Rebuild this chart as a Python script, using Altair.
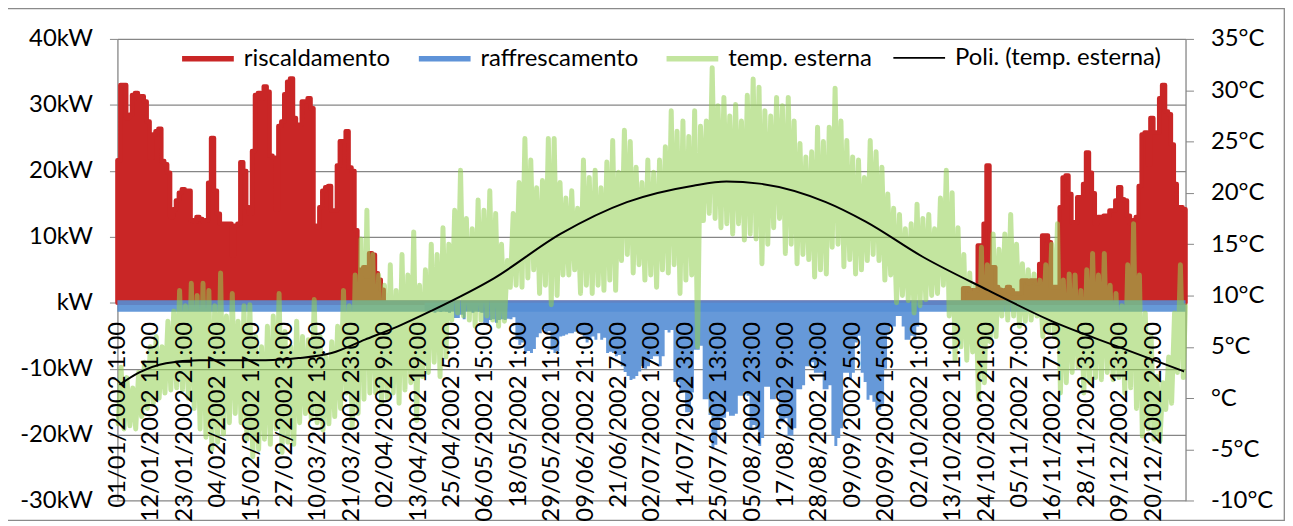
import json
import altair as alt
import pandas as pd

# ---------------- data ----------------
tick_labels = [
    "01/01/2002 1:00", "12/01/2002 11:00", "23/01/2002 21:00", "04/02/2002 7:00",
    "15/02/2002 17:00", "27/02/2002 3:00", "10/03/2002 13:00", "21/03/2002 23:00",
    "02/04/2002 9:00", "13/04/2002 19:00", "25/04/2002 5:00", "06/05/2002 15:00",
    "18/05/2002 1:00", "29/05/2002 11:00", "09/06/2002 21:00", "21/06/2002 7:00",
    "02/07/2002 17:00", "14/07/2002 3:00", "25/07/2002 13:00", "05/08/2002 23:00",
    "17/08/2002 9:00", "28/08/2002 19:00", "09/09/2002 5:00", "20/09/2002 15:00",
    "02/10/2002 1:00", "13/10/2002 11:00", "24/10/2002 21:00", "05/11/2002 7:00",
    "16/11/2002 17:00", "28/11/2002 3:00", "09/12/2002 13:00", "20/12/2002 23:00",
]
tick_step_hours = 274

# heating (kW), daily peaks, days 0..91
heat_winter = [
    21.6, 33, 33, 28, 28.5, 31.5, 31.8, 31, 31.3, 30.5,
    27.5, 22, 25.5, 26, 26.4, 21.5, 21, 19.7, 13, 14.2,
    15.5, 16.7, 17.2, 17, 17, 12.5, 12.3, 13, 12.7, 12.3,
    12.5, 18.2, 25, 17, 13.5, 12, 12, 12, 12, 7.2,
    11.7, 12, 21.3, 20, 14.5, 13.5, 23, 31.5, 31.8, 31,
    32.8, 32, 22.3, 22, 14.2, 26.8, 27.5, 31.6, 33.5, 34,
    28, 27, 27, 30.5, 30.5, 31, 29.5, 11.7, 11.5, 14.5,
    17, 17.5, 17.7, 14, 14, 20.8, 24.5, 24.5, 26, 20.5,
    20, 11, 5, 5, 5.4, 4, 7.5, 7.3, 4.5, 3.5,
    2, 0,
]
heat_winter_first_day = 0

# heating (kW), daily peaks, days 285..364
heat_autumn = [
    0, 0, 0, 0,
    2.2, 2.2, 1.9, 1.9, 1.9, 8.7, 8.7, 12, 20.8, 5.4,
    5.4, 2.4, 2, 1.5, 1.9, 2.4, 1.9, 1.4, 1.4, 1.4,
    3.4, 3.4, 3.0, 3.4, 3.4, 3.0, 5.9, 10.2, 10.2, 9.2,
    2.4, 2.4, 2.4, 14.5, 19, 19.3, 16.5, 12.2, 12.2, 16,
    16, 18, 22.8, 19.7, 16.6, 12, 13, 13, 13.2, 13.2,
    14, 14, 15.5, 17.5, 15.7, 15.5, 13.2, 12, 12.5, 13,
    17.7, 25.5, 25.8, 21, 28, 25.8, 25.8, 31, 33, 29,
    28.6, 24, 18, 14.5, 14.5, 14.2,
]
heat_autumn_first_day = 285

# cooling (kW, negative), daily peaks, days 105..274
cool_summer = [
    -1.2, -1.3, -1.2, -1.5, -1.2, -1.4, -1.2, -1.3, -1.5, -1.2,
    -2.3, -2.3, -1.8, -2.5, -1.2, -1.2, -1.5, -1.2, -1.3, -1.5,
    -3.0, -3.1, -2.6, -2.5, -3.0, -2.6, -2.5, -2.6, -2.4, -2.5,
    -2.2, -5.6, -6.4, -6.0, -7.6, -7.3, -7.6, -7.0, -5.2, -4.6,
    -4.0, -4.6, -4.3, -7.1, -7.6, -7.3, -5.1, -5.0, -4.8, -4.6,
    -4.6, -4.4, -4.6, -4.6, -5.1, -6.0, -5.6, -5.1, -5.6, -4.6,
    -5.6, -5.3, -7.6, -7.4, -7.6, -8.1, -7.9, -9.6, -10.5, -11.1,
    -11.7, -11.5, -11.1, -10.4, -9.6, -10.0, -9.6, -8.5, -8.1, -8.1,
    -9.6, -8.1, -4.1, -4.5, -4.1, -12.0, -12.0, -13.6, -13.6, -16.6,
    -16.6, -13.6, -7.1, -7.1, -6.5, -14.6, -14.6, -17.0, -22.2, -21.5,
    -19.0, -17.4, -17.4, -16.5, -17.1, -17.1, -16.8, -14.1, -14.1, -13.5,
    -14.1, -19.2, -18.5, -19.2, -21.7, -20.5, -12.7, -12.7, -14.6, -14.6,
    -14.0, -18.1, -18.1, -17.5, -20.1, -20.1, -19.0, -13.1, -13.1, -12.5,
    -9.6, -9.6, -9.0, -10.6, -10.6, -10.6, -13.1, -13.1, -12.5, -20.1,
    -21.7, -20.5, -19.0, -10.6, -10.6, -11.6, -10.6, -6.0, -5.0, -10.6,
    -12.0, -14.7, -14.0, -15.0, -16.2, -16.2, -15.5, -10.0, -4.6, -3.6,
    -3.6, -2.0, -2.0, -3.6, -5.6, -5.6, -5.0, -5.6, -3.6, 0,
]
cool_first_day = 105

# outdoor temperature (°C): lows and highs for each 2-day period
temp_low = [
    -2.5, -3.0, -2.7, -3.0, -1.8, -1.0, -0.5, 0.0, 0.5, 0.8,
    1.0, 0.8, 0.0, -1.0, -3.0, -3.8, -5.0, -4.3, -3.5, -2.4,
    -1.5, -2.4, -4.0, -5.7, -5.0, -4.0, -4.5, -3.0, -5.3, -4.3,
    -4.5, -2.4, -1.5, -2.0, -2.4, -3.1, -2.5, -1.8, -1.0, 0.5,
    -2.8, -1.5, -0.1, 0.5, 0.5, -0.5, 0.0, 0.5, -0.5, 0.8,
    1.5, -2.2, 2.1, 2.5, 3.5, 2.1, 4.0, 7.6, 8.3, 8.0,
    7.6, 7.0, 7.6, 8.0, 7.6, 7.0, 7.5, 10.8, 11.0, 10.8,
    11.7, 12.5, 10.2, 11.0, 9.1, 10.0, 12.0, 12.0, 12.5, 10.2,
    11.0, 10.2, 11.0, 10.5, 11.5, 10.5, 13.4, 14.0, 12.2, 13.0,
    11.5, 12.0, 10.8, 12.5, 12.2, 13.0, 10.2, 11.5, 12.0, 5.0,
    17.3, 18.0, 17.5, 16.6, 17.0, 16.0, 17.0, 15.4, 16.0, 15.5,
    13.1, 15.0, 16.6, 17.5, 14.1, 15.0, 13.1, 14.0, 13.5, 11.8,
    12.5, 12.1, 14.7, 15.0, 12.8, 13.5, 12.1, 12.5, 13.4, 14.0,
    13.4, 11.5, 12.0, 9.3, 10.0, 9.5, 8.3, 9.0, 9.6, 10.0,
    10.2, 11.0, 8.0, 3.7, 5.0, 3.7, 4.5, -0.1, 1.5, 5.5,
    6.0, 8.0, 7.6, 8.0, 7.0, 7.5, 7.6, 8.0, 6.0, 6.5,
    6.0, 0.5, 1.5, 2.5, 3.0, 0.5, 1.5, 2.0, 1.8, 2.5,
    1.8, 2.0, 0.5, 1.0, -1.0, -3.7, -3.0, -4.0, -4.2, -1.1,
    -0.5, 2.5, 2.0,
]
temp_high = [
    3.0, 2.0, 1.0, 2.5, 3.5, 5.0, 6.0, 5.0, 7.5, 8.5,
    10.5, 9.0, 11.2, 10.0, 11.2, 10.5, 9.0, 12.2, 8.0, 10.2,
    7.5, 9.0, 9.1, 6.0, 5.0, 7.0, 8.0, 10.2, 6.5, 5.0,
    7.5, 6.0, 5.7, 9.6, 6.0, 4.0, 5.5, 7.0, 10.5, 9.0,
    12.0, 15.5, 18.3, 14.0, 12.0, 11.0, 13.0, 10.5, 14.0, 12.0,
    16.2, 11.0, 12.5, 15.0, 14.0, 16.6, 15.0, 18.3, 22.2, 17.5,
    16.5, 19.3, 18.3, 20.2, 18.0, 15.0, 13.4, 18.0, 21.0, 25.3,
    23.2, 20.5, 21.2, 25.3, 25.3, 21.0, 19.5, 20.2, 18.5, 23.2,
    21.5, 22.2, 20.5, 23.0, 25.1, 22.0, 26.1, 25.0, 22.5, 21.0,
    23.2, 22.0, 23.2, 24.5, 28.0, 26.0, 27.0, 25.5, 28.0, 26.5,
    27.0, 32.2, 28.5, 29.3, 27.5, 28.6, 27.0, 29.5, 31.1, 30.3,
    28.0, 27.5, 29.3, 28.5, 29.3, 27.0, 24.8, 23.5, 24.0, 26.4,
    25.0, 26.4, 30.2, 27.0, 25.1, 23.5, 23.2, 21.5, 25.1, 24.0,
    22.5, 19.9, 18.5, 17.9, 16.5, 17.0, 18.9, 17.5, 17.9, 16.5,
    19.5, 22.2, 20.0, 16.6, 14.0, 12.2, 11.0, 14.7, 13.0, 16.0,
    14.5, 16.0, 17.9, 15.0, 13.1, 12.5, 12.1, 11.5, 13.0, 15.0,
    17.0, 11.5, 12.1, 12.0, 10.5, 12.5, 14.1, 12.0, 14.1, 11.0,
    10.2, 9.0, 13.0, 17.0, 12.0, 8.3, 6.0, 2.1, 1.5, 4.0,
    8.3, 13.0, 9.0,
]

# polynomial trend line of the temperature
poly_day = [0.7, 7.5, 16.6, 27.9, 39.2, 50.6, 61.9, 73.2, 84.6, 95.9, 107.2,
            128.8, 151.4, 174.1, 196.8, 208.1, 219.4, 242.1, 255.7, 275.0,
            297.6, 318.5, 343.0, 364.5]
poly_temp = [1.3, 2.5, 3.4, 3.7, 3.7, 3.7, 3.9, 4.4, 5.7, 7.0, 8.5,
             11.7, 16.0, 19.1, 20.7, 21.1, 20.9, 19.1, 17.2, 13.8,
             10.5, 7.6, 4.9, 2.6]

# thin blue base line of the cooling series (kW extent)
cool_base = [-1.35, 0.4]

series_names = ["riscaldamento", "raffrescamento", "temp. esterna", "Poli. (temp. esterna)"]
series_colors = ["#C92626", "#5F93D8", "#C3E59F", "#000000"]
series_widths = [5.5, 5.5, 5.5, 1.8]

# ---------------- tables ----------------
DAYS = 365
HOURS = DAYS * 24


def place(values, first_day, arr):
    for i, v in enumerate(values):
        arr[first_day + i] = v
    return arr


heat = place(heat_autumn, heat_autumn_first_day, place(heat_winter, heat_winter_first_day, [0.0] * DAYS))
cool = place(cool_summer, cool_first_day, [0.0] * DAYS)

hours = [d * 24 for d in range(DAYS)] + [HOURS]
heat_df = pd.DataFrame({"hour": hours, "kw": heat + [heat[-1]]})
cool_df = pd.DataFrame({"hour": hours, "kw": cool + [cool[-1]]})
band_df = pd.DataFrame({"hour": [0], "h1": [HOURS], "lo": [cool_base[0]], "hi": [cool_base[1]]})

t_hours, t_vals = [], []
for i, (lo, hi) in enumerate(zip(temp_low, temp_high)):
    t_hours += [min(48 * i + 6, HOURS - 1), min(48 * i + 30, HOURS - 1)]
    t_vals += [lo, hi]
temp_df = pd.DataFrame({"hour": t_hours, "t": t_vals})
poly_df = pd.DataFrame({"hour": [d * 24 for d in poly_day], "t": poly_temp})
legend_df = pd.DataFrame({"s": series_names, "hour": [0] * 4, "kw": [None] * 4})
frame_df = pd.DataFrame({"a": [0]})

# ---------------- encodings ----------------
FONT = "Lato"
GRID = "#868686"

x_axis = alt.Axis(
    values=[tick_step_hours * k for k in range(len(tick_labels))],
    labelExpr=f"{json.dumps(tick_labels)}[round(datum.value / {tick_step_hours})]",
    labelAngle=270, labelAlign="right", labelBaseline="middle",
    labelPadding=19, ticks=False, domain=False, grid=False,
    offset=-199.3, labelOverlap=False, labelFlush=False, labelBound=False,
    labelLimit=500,
    title=None, zindex=1, labelFont=FONT, labelFontSize=24, labelColor="black",
)
x_scale = alt.Scale(domain=[0, HOURS], nice=False, zero=False)
x_enc = alt.X("hour:Q", scale=x_scale, axis=x_axis)

kw_axis = alt.Axis(
    orient="left", values=list(range(-30, 41, 10)),
    labelExpr="datum.value == 0 ? 'kW' : datum.value + 'kW'",
    grid=True, gridColor=GRID, gridWidth=1.3, tickSize=8, tickColor=GRID,
    domainColor=GRID, domainWidth=1.3, labelPadding=17, title=None, zindex=0,
    labelFont=FONT, labelFontSize=24, labelColor="black",
)
kw_scale = alt.Scale(domain=[-30, 40], nice=False, zero=False)
t_axis = alt.Axis(
    orient="right", values=list(range(-10, 36, 5)),
    labelExpr="datum.value == 0 ? '°C' : datum.value + '°C'",
    grid=False, tickSize=8, tickColor=GRID, domainColor=GRID, domainWidth=1.3,
    labelPadding=17, title=None, labelFont=FONT, labelFontSize=24, labelColor="black",
)
t_scale = alt.Scale(domain=[-10, 35], nice=False, zero=False)

heat_layer = alt.Chart(heat_df).mark_area(
    interpolate="step-after", color="#C92626", stroke="#C92626",
    strokeWidth=4.5, strokeJoin="round",
).encode(x=x_enc, y=alt.Y("kw:Q", scale=kw_scale, axis=kw_axis))

cool_layer = alt.Chart(cool_df).mark_area(
    interpolate="step-after", color="#6699D9",
).encode(x=x_enc, y=alt.Y("kw:Q", scale=kw_scale, axis=kw_axis))

band_layer = alt.Chart(band_df).mark_rect(color="#558ED5", opacity=0.9).encode(
    x=x_enc, x2="h1:Q",
    y=alt.Y("lo:Q", scale=kw_scale, axis=kw_axis), y2="hi:Q",
)

legend = alt.Legend(
    title=None, orient="none", legendX=62, legendY=-9, direction="horizontal",
    columns=4, labelFont=FONT, labelFontSize=24, labelColor="black",
    symbolType="stroke", symbolSize=2704, labelOffset=7, columnPadding=17,
    padding=0, labelLimit=400,
)
legend_layer = alt.Chart(legend_df).mark_line().encode(
    x=x_enc,
    y=alt.Y("kw:Q", scale=kw_scale, axis=kw_axis),
    color=alt.Color("s:N", scale=alt.Scale(domain=series_names, range=series_colors), legend=legend),
    strokeWidth=alt.StrokeWidth("s:N", scale=alt.Scale(type="ordinal", domain=series_names, range=series_widths), legend=legend),
)

frame_layer = alt.Chart(frame_df).mark_rect(
    fillOpacity=0, stroke="#8A8A8A", strokeWidth=1.3,
).encode(x=alt.value(-112), x2=alt.value(1173), y=alt.value(-30.4), y2=alt.value(484))

kw_group = alt.layer(heat_layer, cool_layer, band_layer, legend_layer, frame_layer)

temp_layer = alt.Chart(temp_df).mark_line(
    color="#92D050", opacity=0.55, strokeWidth=5, strokeJoin="round", strokeCap="round",
).encode(x=x_enc, y=alt.Y("t:Q", scale=t_scale, axis=t_axis))

poly_layer = alt.Chart(poly_df).mark_line(
    color="black", strokeWidth=2, interpolate="monotone",
).encode(x=x_enc, y=alt.Y("t:Q", scale=t_scale, axis=t_axis))

t_group = alt.layer(temp_layer, poly_layer)

chart = alt.layer(kw_group, t_group).resolve_scale(y="independent").properties(
    width=1073.7, height=464.3,
    autosize=alt.AutoSizeParams(type="none"),
    padding={"left": 110, "top": 29.7, "right": 100, "bottom": 26},
).configure_view(stroke=None)

chart.save("out.html", embed_options={"renderer": "svg", "actions": False})
